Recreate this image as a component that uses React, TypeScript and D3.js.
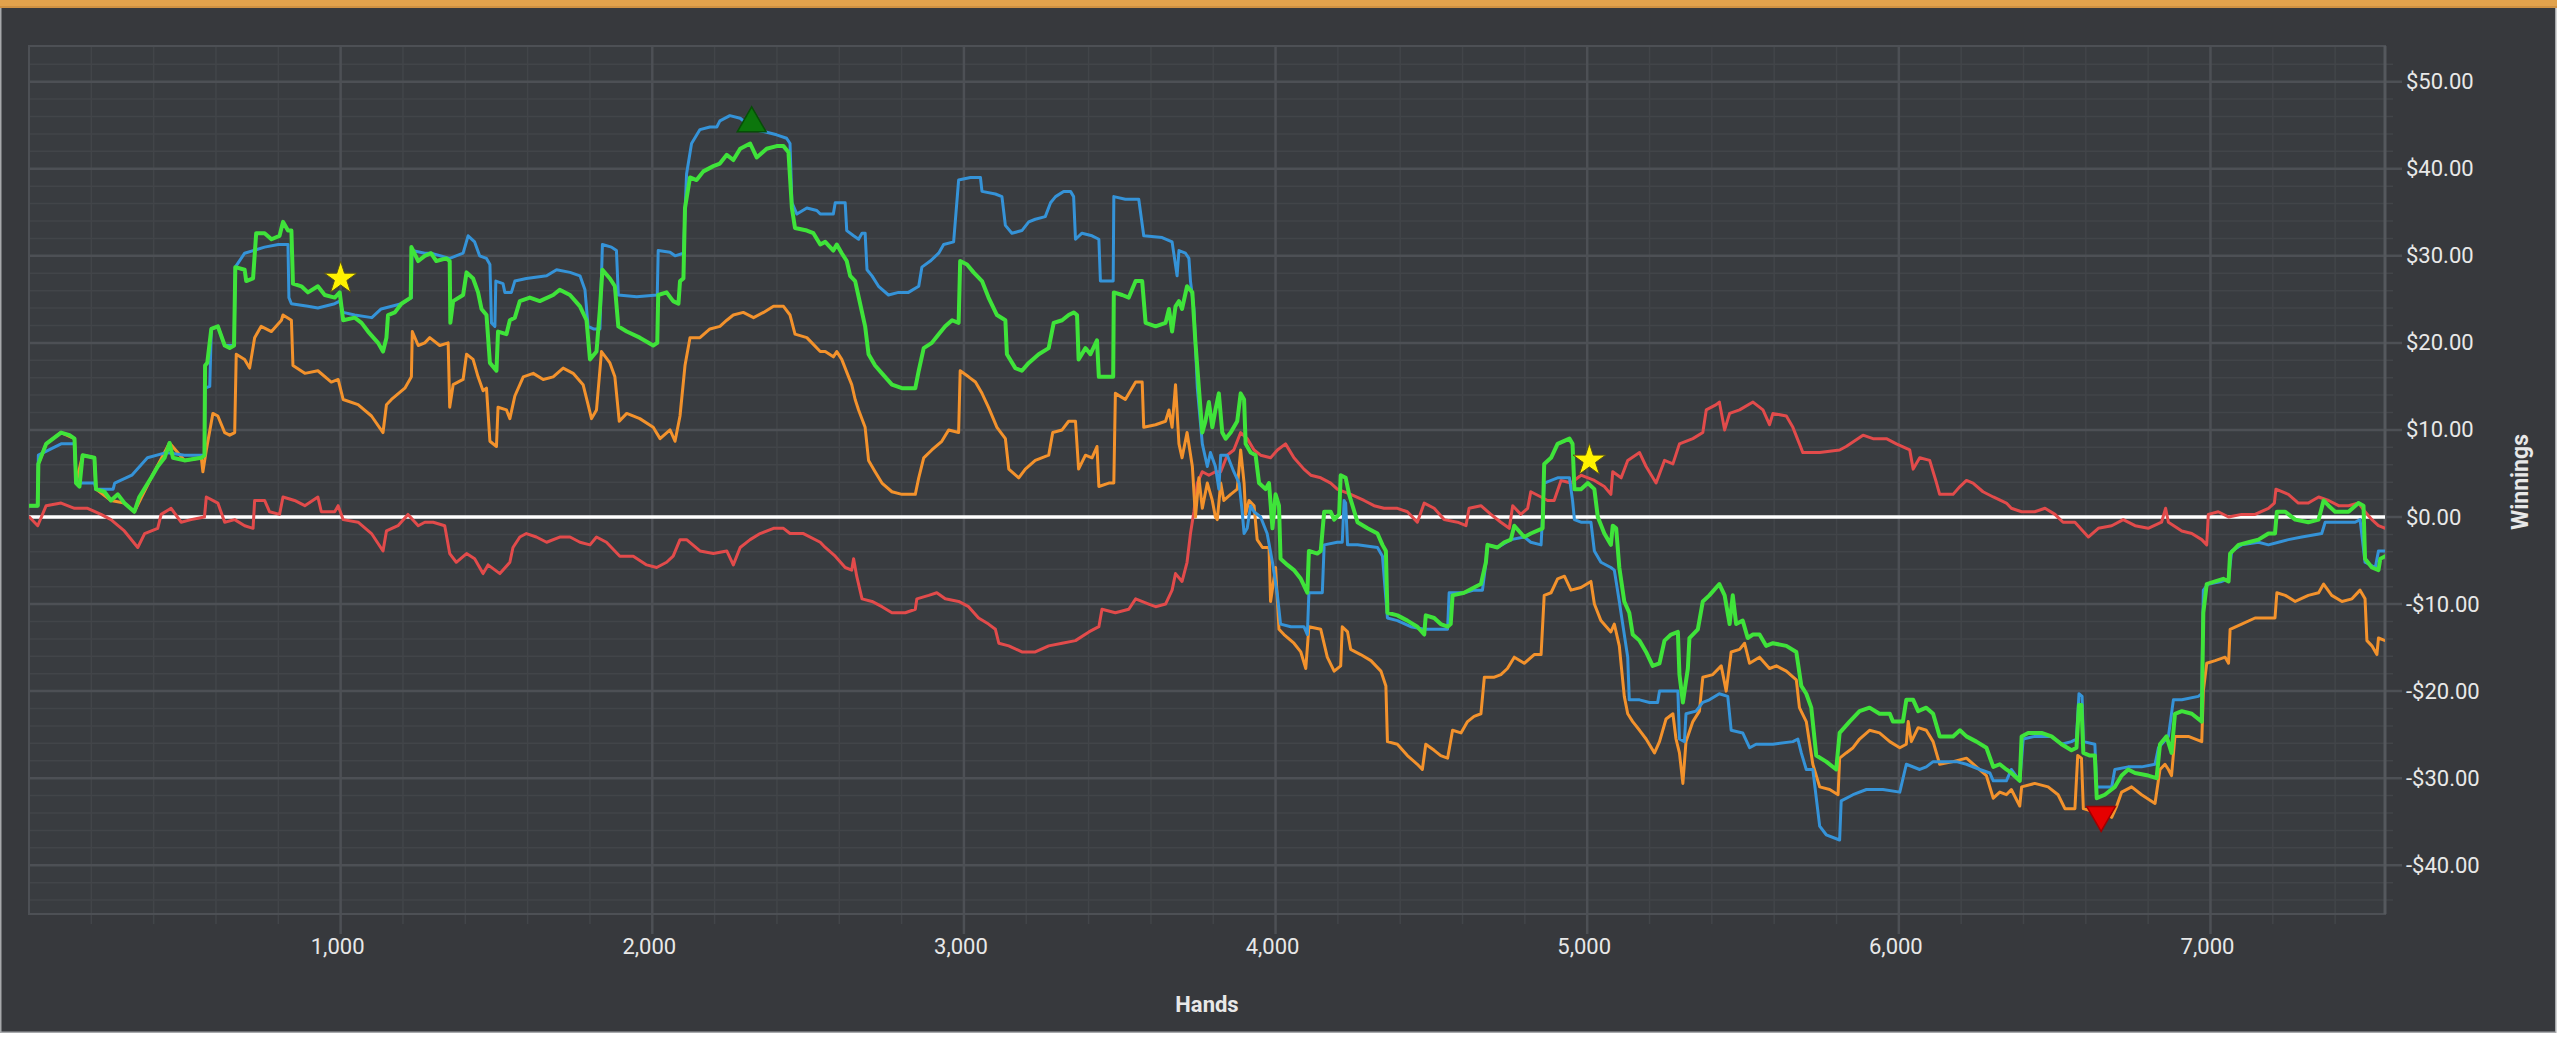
import * as d3 from "d3";

// cumulative winnings per hand: [hand, dollars]
const greenSeries: [number, number][] = [
  [1,1.3],[28,1.3],[30,6.1],[55,8.4],[103,9.7],[130,9.4],[146,9.0],[151,3.9],[162,3.5],[172,7.1],[210,6.8],[215,3.2],[242,2.9],[263,1.9],[285,2.6],[306,1.6],[338,0.6],[354,2.3],[392,4.5],[413,5.8],[435,6.8],[451,8.5],[462,6.8],[499,6.5],[553,6.8],[563,7.1],[565,17.4],[572,17.7],[585,21.6],[606,21.9],[628,19.7],[644,19.4],[658,19.7],[662,28.7],[692,28.4],[697,27.1],[719,27.4],[729,32.6],[756,32.6],[778,31.9],[804,32.3],[815,33.9],[831,32.9],[842,32.9],[847,26.8],[874,26.5],[895,25.8],[927,26.5],[949,25.5],[981,25.2],[997,25.8],[1008,22.6],[1045,22.9],[1067,22.3],[1088,21.3],[1120,20],[1136,19],[1147,20.6],[1152,23.2],[1174,23.5],[1195,24.5],[1225,25.2],[1227,31],[1249,29.4],[1270,30],
  [1290,30.3],[1307,29.4],[1339,29.7],[1350,29.4],[1352,22.3],[1361,24.8],[1393,25.5],[1404,28.1],[1425,27.4],[1441,25.8],[1452,23.9],[1468,23.2],[1479,17.7],[1500,16.8],[1505,21.3],[1532,21],[1543,22.6],[1559,22.9],[1575,24.8],[1607,25.2],[1639,24.8],[1682,25.5],[1703,26.1],[1736,25.5],[1768,24.2],[1789,22.6],[1800,18.1],[1821,19],[1832,23.9],[1840,28.4],[1864,27.4],[1880,26.5],[1891,21.9],[1918,21.3],[1960,20.6],[2003,19.7],[2016,20],[2019,25.5],[2046,25.8],[2067,24.8],[2084,24.5],[2089,27.1],[2100,27.4],[2105,35.5],[2121,39],[2142,38.7],[2164,39.7],[2196,40.3],[2217,40.6],[2239,41.6],[2260,41],[2282,42.3],[2314,42.9],[2335,41.3],[2367,42.3],[2399,42.6],[2421,42.6],[2437,41.9],[2448,35.5],[2458,33.2],[2496,32.9],[2517,32.6],[2539,31.3],
  [2555,31.6],[2581,30.6],[2592,31.3],[2608,30.3],[2624,29.4],[2635,27.7],[2651,27.1],[2667,24.5],[2683,21.9],[2694,18.7],[2715,17.4],[2737,16.5],[2769,15.2],[2801,14.8],[2844,14.8],[2855,16.8],[2871,19.4],[2897,20],[2919,21],[2940,21.9],[2962,22.6],[2983,22.3],[2988,29.4],[3010,29],[3031,28.1],[3058,27.1],[3079,25.2],[3106,23.2],[3133,22.6],[3138,18.7],[3165,17.1],[3186,16.8],[3208,17.7],[3240,18.7],[3272,19.4],[3288,22.3],[3315,22.6],[3336,23.2],[3352,23.5],[3363,23.2],[3368,18.1],[3390,19.4],[3406,18.7],[3427,20.3],[3433,16.1],[3479,16.1],[3481,25.8],[3508,25.5],[3529,25.2],[3551,27.1],[3572,27.1],[3583,22.3],[3615,21.9],[3647,22.3],[3658,23.9],[3668,21.3],[3679,24.2],[3690,24.8],[3700,23.9],[3716,26.5],[3733,25.8],[3743,20],[3754,14.8],[3765,9.7],[3775,11],[3786,13.2],[3797,10.3],[3807,12.3],
  [3818,14.2],[3829,9.7],[3840,9],[3856,9.7],[3877,11],[3888,14.2],[3899,13.5],[3904,8.4],[3920,7.4],[3936,7.1],[3947,3.9],[3968,3.2],[3979,3.9],[3990,-1.3],[4000,2.6],[4011,1.3],[4016,-4.8],[4038,-5.5],[4059,-6.1],[4081,-7.1],[4102,-8.7],[4107,-3.9],[4134,-4.2],[4145,-3.9],[4156,0.6],[4177,0.6],[4188,-0.3],[4204,0.3],[4209,4.8],[4225,4.5],[4236,2.6],[4263,-0.6],[4295,-1.3],[4327,-1.9],[4343,-3.2],[4354,-3.9],[4359,-11],[4391,-11.3],[4423,-11.9],[4455,-12.6],[4477,-13.5],[4482,-11.3],[4509,-11.6],[4530,-12.3],[4552,-12.6],[4562,-12.3],[4568,-9],[4605,-8.7],[4637,-8.1],[4659,-7.7],[4675,-5.2],[4680,-3.2],[4712,-3.5],[4734,-2.9],[4755,-2.6],[4766,-1],[4798,-2.3],[4819,-1.9],[4857,-1.3],[4862,6.1],[4884,6.8],[4905,8.4],[4943,9],[4953,8.4],[4959,3.2],[4980,3.2],[5002,3.9],[5023,3.2],[5034,0],[5055,-1.9],[5076,-3.2],
  [5082,-1],[5093,-1.3],[5103,-5.8],[5119,-9.7],[5135,-11],[5146,-13.5],[5168,-14.2],[5189,-15.5],[5210,-17.1],[5232,-16.8],[5248,-14.2],[5269,-13.5],[5291,-13.2],[5296,-18.1],[5307,-21.3],[5323,-17.4],[5328,-13.9],[5355,-12.9],[5371,-9.7],[5392,-9],[5424,-7.7],[5441,-9],[5457,-12.3],[5467,-9],[5478,-12.3],[5499,-11.9],[5515,-13.9],[5532,-13.5],[5553,-13.5],[5574,-14.8],[5596,-14.5],[5639,-14.8],[5671,-15.5],[5687,-19.4],[5703,-20.3],[5719,-21.9],[5735,-27.4],[5767,-28.1],[5799,-29],[5810,-24.8],[5842,-23.5],[5874,-22.3],[5906,-21.9],[5938,-22.6],[5971,-22.6],[5981,-23.5],[6013,-23.5],[6024,-21],[6046,-21],[6062,-22.3],[6088,-21.9],[6110,-22.6],[6131,-25.2],[6174,-25.2],[6196,-24.5],[6217,-25.2],[6249,-25.8],[6281,-26.5],[6303,-28.7],[6324,-28.4],[6345,-29],
  [6361,-29.4],[6388,-30.3],[6394,-25.2],[6415,-24.8],[6458,-24.8],[6490,-25.2],[6522,-26.1],[6554,-26.8],[6570,-26.5],[6578,-21.6],[6586,-21.6],[6592,-27.1],[6613,-27.4],[6629,-27.4],[6635,-32.3],[6661,-31.9],[6693,-31],[6715,-29.7],[6736,-29],[6758,-29.4],[6800,-29.7],[6827,-30],[6838,-26.1],[6859,-25.2],[6875,-27.1],[6886,-22.6],[6908,-22.3],[6940,-22.6],[6972,-23.5],[6977,-11],[6988,-7.7],[7015,-7.4],[7041,-7.1],[7058,-7.4],[7063,-4.2],[7090,-3.2],[7122,-2.9],[7154,-2.6],[7186,-1.9],[7207,-1.9],[7213,0.6],[7240,0.6],[7272,-0.3],[7314,-0.6],[7347,-0.3],[7363,1.9],[7379,1.3],[7400,0.6],[7443,0.6],[7475,1.6],[7491,1.3],[7496,-4.8],[7518,-5.8],[7539,-6.1],[7545,-4.8],[7561,-4.5],
];

const blueSeries: [number, number][] = [
  [1,1.3],[28,1.3],[30,7.1],[103,8.4],[146,8.4],[151,3.9],[210,3.9],[215,3.2],[270,3.2],[275,3.9],[330,4.8],[380,6.8],[440,7.4],[499,7.1],[563,7.1],[565,14.8],[580,15],[585,21.6],[606,21.9],[628,19.7],[658,19.7],[662,28.7],[692,30.3],[756,31],[800,31.3],[831,31.3],[834,25.2],[842,24.5],[895,24.2],[927,24],[981,24.5],[997,24.8],[1008,23.5],[1045,23.2],[1100,22.9],[1130,23.9],[1195,24.5],[1227,25.2],[1229,30.6],[1270,30.3],
  [1290,30.3],[1350,29.7],[1393,30.3],[1409,32.3],[1430,31.6],[1446,30],[1468,29.7],[1479,29],[1484,22.3],[1495,21.9],[1498,27.1],[1521,26.8],[1527,25.8],[1548,25.8],[1559,27.1],[1596,27.4],[1661,27.7],[1693,28.4],[1736,28.1],[1768,27.7],[1784,26.1],[1794,21.9],[1811,21.6],[1832,21.6],[1840,31.3],[1869,31],[1885,30.6],[1891,25.5],[1950,25.3],[2016,25.5],[2019,30.6],[2057,30.4],[2073,30],[2100,30.3],[2110,39.4],[2126,42.9],[2153,44.5],[2185,44.8],[2207,44.8],[2217,45.5],[2249,46.1],[2282,45.8],[2303,45.2],[2325,44.5],[2367,44.2],[2399,43.9],[2431,43.5],[2442,42.9],[2448,36.1],[2464,34.8],[2496,35.5],[2528,35.2],[2539,34.8],
  [2555,34.8],[2581,34.8],[2587,36.1],[2619,36.1],[2624,32.9],[2646,32.3],[2662,31.9],[2673,32.6],[2683,32.6],[2689,28.4],[2705,27.7],[2726,26.5],[2758,25.5],[2790,25.8],[2822,25.8],[2855,26.5],[2865,28.7],[2892,29.4],[2919,30.3],[2935,31.3],[2967,31.6],[2983,38.7],[3021,39],[3053,39],[3058,37.4],[3101,37.1],[3122,36.8],[3133,33.5],[3154,32.6],[3186,32.9],[3208,33.9],[3229,34.2],[3261,34.5],[3278,36.1],[3294,36.8],[3320,37.4],[3342,37.4],[3352,36.8],[3358,31.9],[3379,32.6],[3411,32.3],[3433,31.9],[3438,27.1],[3479,27.1],[3481,36.8],[3518,36.5],[3561,36.5],[3577,32.3],[3636,32.1],[3668,31.6],[3684,27.7],[3690,30.6],[3711,30.3],[3722,29.7],[3727,27.1],[3738,23.9],[3749,14.8],[3765,8.4],[3781,5.8],[3791,7.4],[3807,5.8],
  [3818,3.2],[3824,7.1],[3845,7.1],[3866,5.2],[3883,3.9],[3893,0.6],[3899,-1.9],[3909,-1.3],[3920,1.3],[3931,0.6],[3952,0],[3973,-1.9],[3990,-5.2],[4006,-9],[4016,-12.3],[4049,-12.6],[4091,-12.6],[4102,-13.5],[4107,-8.7],[4134,-8.7],[4150,-8.7],[4156,-3.2],[4198,-2.9],[4214,-2.9],[4220,1.9],[4225,1.6],[4231,-3.2],[4263,-3.2],[4327,-3.5],[4343,-4.5],[4359,-11.6],[4391,-11.9],[4434,-12.6],[4477,-12.9],[4520,-12.9],[4552,-12.9],[4557,-8.7],[4605,-8.7],[4637,-8.4],[4664,-8.4],[4675,-5.2],[4680,-3.2],[4712,-3.5],[4755,-2.6],[4798,-2.3],[4819,-2.9],[4852,-3.2],[4862,3.9],[4905,4.5],[4943,4.5],[4953,1.9],[4959,-0.3],[4980,-0.6],[5012,-0.6],[5023,-3.9],[5044,-5.2],[5076,-5.8],
  [5087,-6.1],[5103,-9.7],[5119,-13.5],[5130,-16.1],[5135,-21],[5168,-21],[5200,-21.3],[5226,-21.3],[5232,-20],[5291,-20],[5296,-25.5],[5312,-25.8],[5317,-22.6],[5349,-22.3],[5371,-21.3],[5392,-21],[5424,-20.3],[5451,-20.6],[5462,-24.5],[5499,-24.8],[5521,-26.5],[5542,-26.1],[5596,-26.1],[5660,-25.8],[5676,-25.5],[5687,-27.1],[5703,-29],[5724,-29],[5746,-35.5],[5767,-36.5],[5810,-37.1],[5815,-32.6],[5853,-31.9],[5896,-31.3],[5949,-31.3],[6003,-31.6],[6024,-28.4],[6067,-29],[6088,-28.7],[6110,-28.1],[6131,-28.1],[6185,-28.1],[6217,-28.4],[6260,-29],[6292,-29.4],[6303,-30.3],[6345,-30.3],
  [6361,-29],[6388,-30.3],[6399,-25.5],[6436,-25.2],[6490,-25.2],[6522,-26.1],[6554,-25.8],[6570,-25.5],[6578,-20.3],[6588,-20.6],[6592,-25.8],[6629,-26.1],[6635,-31],[6683,-31],[6693,-29],[6736,-28.7],[6779,-28.7],[6822,-28.4],[6833,-26.5],[6865,-25.2],[6881,-21],[6908,-21],[6961,-20.6],[6972,-20.3],[6977,-8.4],[6993,-7.7],[7036,-7.4],[7058,-7.1],[7068,-3.9],[7100,-3.2],[7154,-2.9],[7186,-3.2],[7218,-2.9],[7250,-2.6],[7293,-2.3],[7357,-1.9],[7368,-0.6],[7400,-0.6],[7464,-0.6],[7480,-0.3],[7496,-5.2],[7529,-5.8],[7539,-3.9],[7561,-3.9],
];

const orangeSeries: [number, number][] = [
  [1,1.3],[28,1.3],[30,6.1],[55,8.4],[103,9.7],[146,9.0],[151,3.9],[172,7.1],[210,6.8],[215,3.2],[263,1.9],[306,1.6],[338,0.6],[392,4.5],[451,8.5],[499,6.5],[553,6.8],[558,5.2],[569,7.7],[590,11.9],[606,11.6],[628,9.7],[644,9.4],[660,9.7],[665,18.7],[692,18.1],[708,17.1],[724,20.6],[745,21.9],[778,21.3],[810,22.6],[815,23.2],[842,22.6],[847,17.4],[885,16.5],[927,16.8],[970,15.5],[992,15.8],[1008,13.5],[1056,12.9],[1099,11.6],[1136,9.7],[1147,12.9],[1163,13.5],[1206,14.8],[1227,16.1],[1230,21.3],[1249,19.7],[1270,20],
  [1286,20.6],[1318,19.7],[1345,20],[1350,12.6],[1361,15.2],[1393,15.8],[1404,18.7],[1425,18.1],[1441,16.1],[1457,14.5],[1468,14.8],[1479,8.7],[1500,8.1],[1505,12.6],[1532,12.3],[1543,11.3],[1559,13.9],[1586,16.1],[1618,16.5],[1650,15.8],[1682,16.1],[1714,17.1],[1746,16.5],[1778,15.2],[1794,12.9],[1805,11.3],[1821,12.3],[1837,19],[1864,17.7],[1880,16.1],[1894,11],[1918,11.9],[1960,11.3],[2003,10.3],[2025,9],[2057,10],[2073,8.7],[2089,11.6],[2105,17.4],[2121,20.6],[2153,20.6],[2185,21.6],[2217,21.9],[2239,22.6],[2260,23.2],[2292,23.5],[2325,22.9],[2357,23.5],[2389,24.2],[2421,24.2],[2442,23.2],[2458,21],[2496,20.6],[2539,19],
  [2555,19],[2581,18.4],[2592,19],[2608,18.1],[2630,16.1],[2640,15.2],[2651,13.5],[2662,12.3],[2683,10.3],[2694,6.5],[2715,5.2],[2737,3.9],[2769,2.9],[2801,2.6],[2844,2.6],[2855,4.5],[2871,6.8],[2897,7.7],[2929,8.7],[2951,10],[2983,9.7],[2988,16.8],[3015,16.1],[3037,15.5],[3058,14.2],[3079,12.6],[3106,10.3],[3133,9],[3144,5.5],[3176,4.5],[3197,5.5],[3229,6.5],[3272,7.1],[3285,9.7],[3315,10],[3336,11],[3358,11],[3368,5.5],[3390,7.1],[3411,6.8],[3427,8.1],[3433,3.5],[3465,3.9],[3481,3.9],[3486,14.2],[3518,13.5],[3551,15.5],[3572,15.5],[3577,10.3],[3615,10.6],[3647,11],[3658,12.3],[3668,10.3],[3679,15.2],[3690,8.4],[3700,6.8],[3716,9.7],[3733,5.8],[3743,0],[3754,4.5],[3765,1.0],[3781,3.9],[3797,1.9],[3807,0],
  [3813,-0.3],[3824,3.9],[3834,1.9],[3856,2.6],[3877,3.2],[3888,7.7],[3899,3.9],[3904,0.3],[3915,1.9],[3931,1.3],[3941,-2.6],[3958,-3.5],[3979,-3.5],[3984,-9.7],[4000,-5.8],[4011,-12.9],[4027,-13.5],[4059,-14.5],[4081,-15.5],[4097,-17.4],[4107,-12.6],[4145,-12.9],[4166,-16.1],[4188,-17.7],[4209,-17.1],[4214,-12.6],[4231,-13.2],[4241,-15.2],[4273,-15.8],[4306,-16.5],[4338,-17.7],[4354,-19.4],[4359,-25.8],[4391,-26.1],[4423,-27.4],[4455,-28.4],[4471,-29],[4482,-26.1],[4509,-26.8],[4530,-27.4],[4552,-27.7],[4568,-24.5],[4595,-24.8],[4616,-23.5],[4637,-22.9],[4659,-22.6],[4670,-18.4],[4702,-18.4],[4723,-18.1],[4744,-17.4],[4766,-16.1],[4798,-16.8],[4830,-15.8],[4852,-15.8],[4862,-9],[4884,-8.7],[4905,-7.1],[4927,-6.8],[4948,-8.4],[4980,-8.1],[5012,-7.4],[5023,-10],[5044,-11.9],[5076,-13.2],
  [5087,-12.3],[5103,-14.8],[5119,-20.6],[5130,-22.6],[5146,-23.5],[5168,-24.5],[5189,-25.5],[5216,-27.1],[5232,-25.8],[5253,-23.2],[5275,-22.6],[5285,-25.5],[5296,-27.1],[5307,-30.6],[5317,-25.8],[5339,-23.5],[5360,-22.3],[5371,-18.4],[5403,-18.1],[5430,-17.1],[5446,-20],[5462,-15.5],[5489,-15.2],[5505,-14.5],[5521,-16.8],[5553,-16.1],[5585,-17.4],[5607,-17.1],[5639,-17.7],[5671,-18.7],[5681,-21.9],[5703,-23.5],[5724,-28.4],[5746,-31],[5778,-31.3],[5805,-31.9],[5810,-27.7],[5831,-27.1],[5853,-26.5],[5874,-25.5],[5906,-24.5],[5938,-24.8],[5971,-25.8],[6003,-26.5],[6024,-26.1],[6030,-23.5],[6040,-25.8],[6062,-24.2],[6088,-24.5],[6110,-25.8],[6131,-28.4],[6174,-28.1],[6217,-27.7],[6249,-28.7],[6281,-29.7],[6303,-32.3],[6324,-31.6],[6345,-31.9],
  [6361,-31.3],[6388,-33.2],[6394,-31],[6436,-30.6],[6479,-31],[6511,-31.9],[6533,-33.5],[6565,-33.5],[6574,-27.4],[6586,-27.7],[6592,-33.5],[6629,-33.9],[6651,-33.5],[6683,-34.5],[6699,-33.2],[6715,-31.6],[6747,-31],[6779,-31.9],[6822,-32.9],[6838,-29],[6854,-28.4],[6865,-29],[6875,-29.7],[6886,-25.2],[6929,-25.2],[6972,-25.8],[6977,-20],[6988,-16.8],[7015,-16.5],[7047,-16.1],[7058,-16.8],[7063,-12.9],[7100,-12.3],[7143,-11.6],[7186,-11.6],[7207,-11.6],[7213,-8.7],[7240,-9],[7272,-9.7],[7314,-9],[7347,-8.7],[7363,-7.7],[7389,-9],[7422,-9.7],[7454,-9.4],[7480,-8.4],[7496,-9.4],[7502,-14.2],[7518,-14.8],[7534,-15.8],[7539,-13.9],[7561,-14.2],
];

const redSeries: [number, number][] = [
  [1,0],[28,-1],[55,1.3],[103,1.6],[146,1.0],[188,1.0],[231,0.3],[263,-0.3],[306,-1.6],[349,-3.5],[371,-1.9],[413,-1.3],[424,0.3],[456,1.0],[488,-0.6],[520,-0.3],[563,0],[569,2.3],[606,1.6],[628,-0.6],[660,-0.3],[692,-1],[719,-1.3],[724,1.9],[756,1.9],[772,0.6],[804,0.3],[815,2.3],[852,1.9],[885,1.3],[927,2.3],[938,0.6],[981,0.6],[992,1.3],[1008,-0.3],[1056,-0.6],[1099,-1.9],[1136,-3.9],[1147,-1.6],[1184,-1],[1216,0.3],[1249,-1],[1270,-0.6],
  [1297,-0.6],[1334,-1],[1350,-4.2],[1371,-5.2],[1404,-4.2],[1430,-4.8],[1457,-6.5],[1473,-5.5],[1511,-6.5],[1543,-5.2],[1553,-3.5],[1575,-2.3],[1596,-1.9],[1628,-2.3],[1661,-2.9],[1703,-2.3],[1736,-2.3],[1768,-2.9],[1800,-3.2],[1821,-2.3],[1853,-2.9],[1896,-4.5],[1939,-4.5],[1982,-5.5],[2014,-5.8],[2046,-5.2],[2067,-4.5],[2089,-2.6],[2110,-2.6],[2153,-3.9],[2196,-4.2],[2239,-3.9],[2260,-5.5],[2282,-3.5],[2314,-2.6],[2346,-1.9],[2389,-1.3],[2421,-1.3],[2442,-1.9],[2485,-1.9],[2539,-2.9],
  [2555,-3.5],[2587,-4.5],[2619,-5.8],[2640,-6.1],[2646,-4.8],[2656,-6.8],[2673,-9.4],[2705,-9.7],[2737,-10.3],[2769,-11],[2812,-11],[2844,-10.6],[2849,-9.4],[2887,-9],[2913,-8.7],[2940,-9.4],[2983,-9.7],[3015,-10.3],[3047,-11.6],[3079,-12.3],[3101,-12.9],[3112,-14.5],[3144,-14.8],[3186,-15.5],[3229,-15.5],[3272,-14.8],[3315,-14.5],[3358,-14.2],[3401,-13.2],[3433,-12.6],[3443,-10.6],[3486,-11],[3529,-10.6],[3551,-9.4],[3593,-10],[3615,-10.3],[3647,-10],[3668,-8.4],[3679,-6.5],[3700,-7.4],[3716,-5.2],[3727,-1.9],[3738,0.6],[3749,3.9],[3765,5.2],[3786,4.8],[3807,5.2],
  [3824,5.2],[3845,7.1],[3866,7.7],[3888,9.7],[3909,9],[3931,7.7],[3952,7.1],[3984,6.8],[4006,7.7],[4032,8.4],[4059,6.8],[4091,5.5],[4113,4.8],[4145,4.5],[4177,3.9],[4198,3.2],[4241,2.6],[4284,1.9],[4316,1.3],[4348,1],[4391,1],[4423,0.6],[4455,-0.6],[4477,1.6],[4509,1],[4541,-0.3],[4584,-0.6],[4611,-1],[4621,1],[4659,1.3],[4691,0.3],[4723,-0.6],[4750,-1.3],[4761,1.3],[4787,0.3],[4809,1],[4819,2.9],[4852,2.3],[4873,1.9],[4894,1.9],[4916,4.2],[4948,3.9],[4980,4.8],[5023,4.2],[5055,3.5],[5076,2.6],
  [5082,5.2],[5109,4.5],[5130,6.5],[5168,7.4],[5189,5.8],[5221,3.9],[5248,6.5],[5275,6.1],[5296,8.4],[5339,9],[5371,9.7],[5382,12.3],[5414,12.9],[5424,13.2],[5441,10],[5457,11.9],[5489,12.3],[5532,13.2],[5564,12.3],[5585,10.6],[5596,11.9],[5639,11.6],[5660,10.3],[5681,8.4],[5692,7.4],[5746,7.4],[5810,7.7],[5831,8.1],[5885,9.4],[5917,9],[5960,9],[5992,8.4],[6035,7.7],[6046,5.5],[6067,6.8],[6099,6.5],[6121,3.9],[6131,2.6],[6174,2.6],[6196,3.5],[6217,4.2],[6238,3.9],[6270,2.9],[6303,2.3],[6345,1.6],
  [6361,1],[6394,0.6],[6436,0.6],[6469,1],[6501,0.3],[6527,-0.6],[6565,-0.6],[6608,-2.3],[6640,-1.3],[6683,-1],[6720,-0.3],[6758,-1],[6800,-1.3],[6843,-0.6],[6856,1],[6865,-0.6],[6908,-1.6],[6940,-1.9],[6972,-2.6],[6988,-3.2],[6993,0.3],[7025,0.6],[7058,0],[7100,0.3],[7143,0.3],[7186,1],[7205,1.6],[7210,3.2],[7250,2.6],[7282,1.6],[7314,1.6],[7347,2.3],[7379,1.9],[7411,1.3],[7443,1.3],[7475,1.6],[7496,0.6],[7518,-0.3],[7539,-1],[7561,-1.3],
];

// highlighted hands: stars, session high and session low
const markerHands = [1000, 2319, 5007, 6649];
const markerValues = [27.4, 45.2, 6.5, -34.2];
const markerKinds = ["star", "high", "star", "low"];

const X_TICKS = [1000, 2000, 3000, 4000, 5000, 6000, 7000];
const Y_TICKS = [-40, -30, -20, -10, 0, 10, 20, 30, 40, 50];
const HAND_DOMAIN = [0, 7560];
const VALUE_DOMAIN = [-45.6, 54.1];

const W = 2560;
const H = 1039;
const PLOT = { left: 29, right: 2385, top: 46, bottom: 914 };
const FONT = "Roboto, 'Open Sans', sans-serif";

const SERIES = [
  { data: redSeries, color: "#e24b4b", width: 3 },
  { data: orangeSeries, color: "#f3922c", width: 3 },
  { data: blueSeries, color: "#3593d8", width: 3 },
  { data: greenSeries, color: "#3fe33a", width: 4 },
];

const money = (v: number) =>
  v < 0 ? `-$${Math.abs(v).toFixed(2)}` : `$${v.toFixed(2)}`;

export default function App() {
  const x = d3.scaleLinear().domain(HAND_DOMAIN).range([PLOT.left, PLOT.right]);
  const y = d3.scaleLinear().domain(VALUE_DOMAIN).range([PLOT.bottom, PLOT.top]);

  const line = d3
    .line<[number, number]>()
    .x((d) => x(d[0]))
    .y((d) => y(d[1]));

  const minorX = d3.range(200, HAND_DOMAIN[1], 200).filter((v) => v % 1000 !== 0);
  const minorY = d3.range(-44, 54, 2).filter((v) => v % 10 !== 0);

  const star = d3.symbol().type(d3.symbolStar).size(330)()!;
  const tri = d3.symbol().type(d3.symbolTriangle).size(360)()!;

  return (
    <svg
      width={W}
      height={H}
      style={{ position: "fixed", left: 0, top: 0, background: "#ffffff" }}
    >
      <defs>
        <clipPath id="plotClip">
          <rect
            x={PLOT.left}
            y={PLOT.top}
            width={PLOT.right - PLOT.left}
            height={PLOT.bottom - PLOT.top}
          />
        </clipPath>
      </defs>

      {/* panel */}
      <rect x={0.75} y={0.75} width={2555} height={1031.5} fill="#37393d" stroke="#a7a9ac" strokeWidth={1.5} />
      <rect x={0} y={0} width={2557} height={8} fill="#e2a24c" />
      <rect x={0} y={6} width={2557} height={2} fill="#cf9142" />

      {/* plot background */}
      <rect
        x={PLOT.left}
        y={PLOT.top}
        width={PLOT.right - PLOT.left}
        height={PLOT.bottom - PLOT.top}
        fill="#393c40"
      />

      {/* minor grid */}
      <g stroke="#424549" strokeWidth={1.5}>
        {minorX.map((v) => (
          <line key={`mx${v}`} x1={x(v)} x2={x(v)} y1={PLOT.top} y2={PLOT.bottom + 10} />
        ))}
        {minorY.map((v) => (
          <line key={`my${v}`} x1={PLOT.left} x2={PLOT.right + 8} y1={y(v)} y2={y(v)} />
        ))}
      </g>

      {/* major grid */}
      <g stroke="#4d5055" strokeWidth={2.5}>
        {X_TICKS.map((v) => (
          <line key={`x${v}`} x1={x(v)} x2={x(v)} y1={PLOT.top} y2={PLOT.bottom + 20} />
        ))}
        {Y_TICKS.map((v) => (
          <line key={`y${v}`} x1={PLOT.left} x2={PLOT.right + 17} y1={y(v)} y2={y(v)} />
        ))}
      </g>

      <rect
        x={PLOT.left}
        y={PLOT.top}
        width={PLOT.right - PLOT.left}
        height={PLOT.bottom - PLOT.top}
        fill="none"
        stroke="#4d5055"
        strokeWidth={2}
      />
      <line x1={PLOT.right} x2={PLOT.right} y1={PLOT.top} y2={PLOT.bottom} stroke="#55585d" strokeWidth={3} />

      {/* zero line */}
      <line x1={PLOT.left} x2={PLOT.right} y1={y(0)} y2={y(0)} stroke="#ffffff" strokeWidth={3.5} />

      {/* series */}
      <g clipPath="url(#plotClip)" fill="none" strokeLinejoin="round" strokeLinecap="round">
        {SERIES.map((s, i) => (
          <path key={i} d={line(s.data) ?? ""} stroke={s.color} strokeWidth={s.width} />
        ))}
      </g>

      {/* markers */}
      {markerHands.map((h, i) => {
        const kind = markerKinds[i];
        const cx = x(h);
        const cy = y(markerValues[i]);
        if (kind === "star") {
          return (
            <path
              key={i}
              d={star}
              transform={`translate(${cx},${cy})`}
              fill="#fff200"
              stroke="#55501a"
              strokeWidth={1}
            />
          );
        }
        return (
          <path
            key={i}
            d={tri}
            transform={`translate(${cx},${cy}) rotate(${kind === "low" ? 180 : 0})`}
            fill={kind === "low" ? "#e60000" : "#0c760c"}
            stroke={kind === "low" ? "#a00000" : "#064f06"}
            strokeWidth={1.5}
          />
        );
      })}

      {/* y axis labels */}
      <g fill="#e8e8e8" fontFamily={FONT} fontSize={22}>
        {Y_TICKS.map((v) => (
          <text key={v} x={PLOT.right + 21} y={y(v)} dominantBaseline="central">
            {money(v)}
          </text>
        ))}
      </g>
      <text
        transform={`translate(2520, 482) rotate(-90)`}
        textAnchor="middle"
        dominantBaseline="central"
        fill="#e8e8e8"
        fontFamily={FONT}
        fontSize={23}
        fontWeight="bold"
      >
        Winnings
      </text>

      {/* x axis labels */}
      <g fill="#e8e8e8" fontFamily={FONT} fontSize={22} textAnchor="middle">
        {X_TICKS.map((v) => (
          <text key={v} x={x(v) - 3} y={946} dominantBaseline="central">
            {d3.format(",")(v)}
          </text>
        ))}
      </g>
      <text
        x={(PLOT.left + PLOT.right) / 2}
        y={1004}
        textAnchor="middle"
        dominantBaseline="central"
        fill="#e8e8e8"
        fontFamily={FONT}
        fontSize={22}
        fontWeight="bold"
      >
        Hands
      </text>
    </svg>
  );
}
